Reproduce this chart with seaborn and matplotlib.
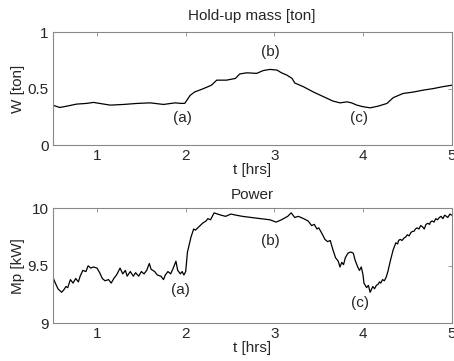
import matplotlib
matplotlib.use("Agg")
import matplotlib.pyplot as plt
import seaborn as sns
import pandas as pd

# Hold-up mass trace
w_time = [0.50, 0.58, 0.66, 0.77, 0.88, 0.96, 1.03, 1.15, 1.30, 1.45, 1.60, 1.75,
          1.88, 1.955, 1.99, 2.05, 2.10, 2.20, 2.29, 2.35, 2.46, 2.56, 2.61, 2.69,
          2.80, 2.875, 2.95, 3.03, 3.08, 3.14, 3.20, 3.23, 3.33, 3.44, 3.55, 3.66,
          3.74, 3.82, 3.87, 3.93, 4.00, 4.08, 4.17, 4.27, 4.34, 4.45, 4.57, 4.68,
          4.79, 4.89, 5.00]
w_mass = [0.354, 0.333, 0.345, 0.363, 0.369, 0.378, 0.369, 0.354, 0.360, 0.369, 0.374, 0.360,
          0.374, 0.369, 0.370, 0.440, 0.470, 0.500, 0.530, 0.575, 0.575, 0.590, 0.630, 0.640,
          0.635, 0.660, 0.670, 0.664, 0.640, 0.620, 0.590, 0.550, 0.516, 0.470, 0.430, 0.390,
          0.374, 0.383, 0.374, 0.354, 0.340, 0.330, 0.345, 0.369, 0.420, 0.457, 0.470, 0.487,
          0.500, 0.516, 0.530]

# Power trace
p_time = [0.50, 0.53, 0.56, 0.60, 0.625, 0.65, 0.67, 0.70, 0.73, 0.76, 0.79, 0.81,
          0.84, 0.875, 0.90, 0.93, 0.96, 1.00, 1.03, 1.06, 1.09, 1.13, 1.16, 1.19,
          1.22, 1.24, 1.26, 1.29, 1.32, 1.34, 1.375, 1.41, 1.435, 1.47, 1.50, 1.53,
          1.56, 1.59, 1.61, 1.65, 1.68, 1.72, 1.75, 1.77, 1.80, 1.83, 1.86, 1.89,
          1.91, 1.94, 1.96, 1.98, 2.00, 2.02, 2.06, 2.09, 2.11, 2.15, 2.19, 2.23,
          2.25, 2.28, 2.32, 2.36, 2.40, 2.45, 2.51, 2.57, 2.64, 2.74, 2.85, 2.95,
          3.02, 3.08, 3.15, 3.19, 3.23, 3.27, 3.33, 3.38, 3.42, 3.45, 3.48, 3.50,
          3.53, 3.57, 3.60, 3.63, 3.66, 3.69, 3.72, 3.74, 3.76, 3.78, 3.80, 3.83,
          3.86, 3.89, 3.91, 3.94, 3.96, 3.98, 4.00, 4.01, 4.04, 4.06, 4.08, 4.11,
          4.13, 4.15, 4.17, 4.185, 4.20, 4.22, 4.24, 4.26, 4.28, 4.31, 4.34, 4.37,
          4.39, 4.40, 4.42, 4.44, 4.46, 4.48, 4.50, 4.52, 4.54, 4.56, 4.575, 4.59,
          4.61, 4.63, 4.65, 4.67, 4.69, 4.71, 4.73, 4.75, 4.76, 4.78, 4.80, 4.82,
          4.84, 4.86, 4.88, 4.90, 4.92, 4.94, 4.955, 4.98, 5.00]
p_power = [9.405, 9.35, 9.30, 9.27, 9.29, 9.32, 9.31, 9.38, 9.35, 9.39, 9.36, 9.41,
           9.46, 9.45, 9.50, 9.48, 9.49, 9.48, 9.44, 9.39, 9.37, 9.38, 9.35, 9.39,
           9.42, 9.45, 9.48, 9.43, 9.46, 9.41, 9.45, 9.41, 9.44, 9.41, 9.45, 9.43,
           9.46, 9.52, 9.47, 9.45, 9.42, 9.41, 9.38, 9.42, 9.45, 9.43, 9.48, 9.54,
           9.46, 9.43, 9.45, 9.42, 9.45, 9.62, 9.75, 9.82, 9.81, 9.84, 9.87, 9.89,
           9.91, 9.90, 9.96, 9.95, 9.94, 9.93, 9.95, 9.94, 9.93, 9.92, 9.91, 9.90,
           9.88, 9.90, 9.93, 9.96, 9.92, 9.93, 9.91, 9.89, 9.85, 9.86, 9.82, 9.83,
           9.79, 9.73, 9.71, 9.72, 9.64, 9.57, 9.54, 9.49, 9.53, 9.51, 9.57, 9.61,
           9.62, 9.61, 9.55, 9.49, 9.46, 9.49, 9.42, 9.35, 9.31, 9.33, 9.27, 9.32,
           9.30, 9.33, 9.34, 9.36, 9.35, 9.38, 9.37, 9.40, 9.45, 9.55, 9.64, 9.70,
           9.69, 9.72, 9.73, 9.72, 9.74, 9.75, 9.77, 9.76, 9.79, 9.80, 9.80, 9.82,
           9.83, 9.82, 9.85, 9.84, 9.82, 9.86, 9.87, 9.86, 9.88, 9.89, 9.88, 9.91,
           9.90, 9.92, 9.93, 9.91, 9.94, 9.93, 9.92, 9.95, 9.94]

x_ticks = [1, 2, 3, 4, 5]
w_ticks = [0, 0.5, 1]
w_tick_labels = ["0", "0.5", "1"]
p_ticks = [9, 9.5, 10]
p_tick_labels = ["9", "9.5", "10"]

point_labels = ["(a)", "(b)", "(c)"]
w_label_pos = [(1.96, 0.24), (2.95, 0.82), (3.95, 0.24)]
p_label_pos = [(1.94, 9.29), (2.95, 9.72), (3.97, 9.18)]

sns.set_style("white")
plt.rcParams["font.family"] = ["Liberation Sans", "DejaVu Sans"]
plt.rcParams["xtick.direction"] = "in"
plt.rcParams["ytick.direction"] = "in"

fig = plt.figure(figsize=(4.54, 3.61), dpi=100)
ax1 = fig.add_axes([0.116, 0.598, 0.879, 0.313])
ax2 = fig.add_axes([0.116, 0.1044, 0.879, 0.3186])

df_w = pd.DataFrame({"t": w_time, "W": w_mass})
df_p = pd.DataFrame({"t": p_time, "P": p_power})

sns.lineplot(data=df_w, x="t", y="W", ax=ax1, color="black", linewidth=0.9)
sns.lineplot(data=df_p, x="t", y="P", ax=ax2, color="black", linewidth=0.9)

fs = 11
for ax, ticks, labels, ylab, title, ylim, lpos, tpad in [
        (ax1, w_ticks, w_tick_labels, "W [ton]", "Hold-up mass [ton]", (0, 1), w_label_pos, 9),
        (ax2, p_ticks, p_tick_labels, "Mp [kW]", "Power", (9, 10), p_label_pos, 7)]:
    ax.set_xlim(0.5, 5)
    ax.set_ylim(*ylim)
    ax.set_xticks(x_ticks)
    ax.set_xticklabels([str(v) for v in x_ticks], fontsize=fs)
    ax.set_yticks(ticks)
    ax.set_yticklabels(labels, fontsize=fs)
    ax.tick_params(axis="both", which="both", direction="in", length=3,
                   width=0.6, color="#888888", top=True, right=True,
                   labeltop=False, labelright=False, pad=3)
    for sp in ax.spines.values():
        sp.set_visible(True)
        sp.set_color("#888888")
        sp.set_linewidth(0.8)
    ax.set_xlabel("t [hrs]", fontsize=fs, labelpad=0)
    ax.set_ylabel(ylab, fontsize=fs, labelpad=2)
    ax.set_title(title, fontsize=fs, pad=tpad)
    for txt, (tx, ty) in zip(point_labels, lpos):
        ax.text(tx, ty, txt, fontsize=fs, ha="center", va="center")

fig.savefig("out.png", dpi=100, facecolor="white")
